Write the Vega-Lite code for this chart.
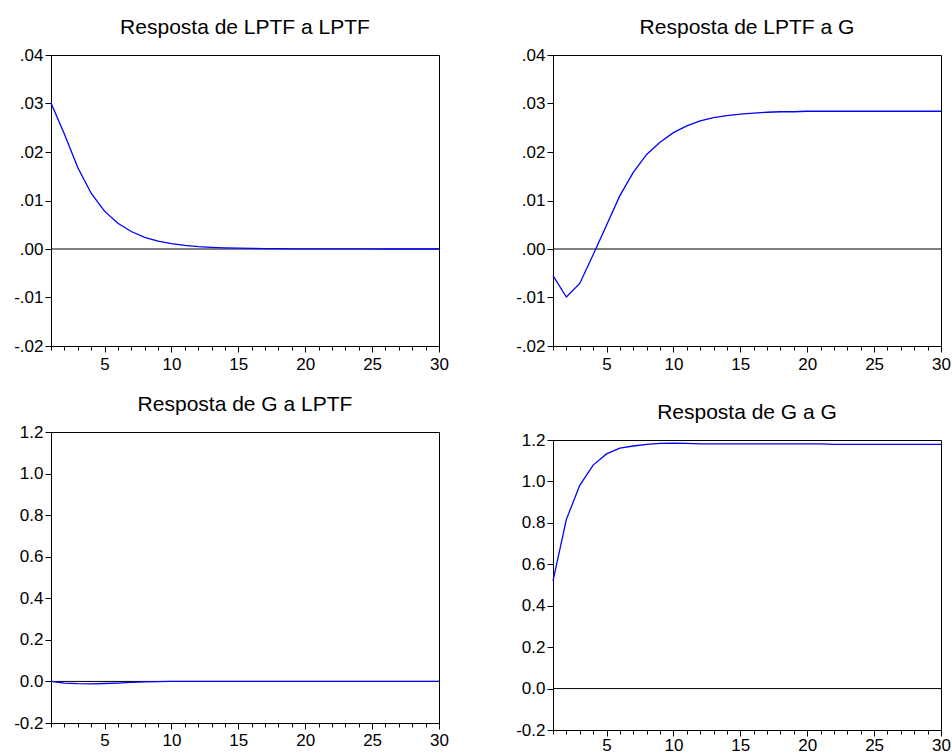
{
  "$schema": "https://vega.github.io/schema/vega-lite/v6.json",
  "padding": {"left": 13, "top": 16, "right": 0, "bottom": 0},
  "background": "white",
  "data": {"values": [
    {"p": "A", "t": 1, "v": 0.0301}, {"p": "A", "t": 2, "v": 0.0237}, {"p": "A", "t": 3, "v": 0.0168}, {"p": "A", "t": 4, "v": 0.0115}, {"p": "A", "t": 5, "v": 0.0078},
    {"p": "A", "t": 6, "v": 0.0053}, {"p": "A", "t": 7, "v": 0.0036}, {"p": "A", "t": 8, "v": 0.0024}, {"p": "A", "t": 9, "v": 0.0016}, {"p": "A", "t": 10, "v": 0.0011},
    {"p": "A", "t": 11, "v": 0.00075}, {"p": "A", "t": 12, "v": 0.0005}, {"p": "A", "t": 13, "v": 0.00035}, {"p": "A", "t": 14, "v": 0.00024}, {"p": "A", "t": 15, "v": 0.00017},
    {"p": "A", "t": 16, "v": 0.00012}, {"p": "A", "t": 17, "v": 0.00008}, {"p": "A", "t": 18, "v": 0.00006}, {"p": "A", "t": 19, "v": 0.00004}, {"p": "A", "t": 20, "v": 0.00003},
    {"p": "A", "t": 21, "v": 0.00002}, {"p": "A", "t": 22, "v": 0.00002}, {"p": "A", "t": 23, "v": 0.00001}, {"p": "A", "t": 24, "v": 0.00001}, {"p": "A", "t": 25, "v": 0.00001},
    {"p": "A", "t": 26, "v": 0.0}, {"p": "A", "t": 27, "v": 0.0}, {"p": "A", "t": 28, "v": 0.0}, {"p": "A", "t": 29, "v": 0.0}, {"p": "A", "t": 30, "v": 0.0},
    {"p": "B", "t": 1, "v": -0.0055}, {"p": "B", "t": 2, "v": -0.0099}, {"p": "B", "t": 3, "v": -0.0071}, {"p": "B", "t": 4, "v": -0.0012}, {"p": "B", "t": 5, "v": 0.0049},
    {"p": "B", "t": 6, "v": 0.011}, {"p": "B", "t": 7, "v": 0.0158}, {"p": "B", "t": 8, "v": 0.0195}, {"p": "B", "t": 9, "v": 0.022}, {"p": "B", "t": 10, "v": 0.024},
    {"p": "B", "t": 11, "v": 0.0254}, {"p": "B", "t": 12, "v": 0.0264}, {"p": "B", "t": 13, "v": 0.0271}, {"p": "B", "t": 14, "v": 0.0275}, {"p": "B", "t": 15, "v": 0.0278},
    {"p": "B", "t": 16, "v": 0.028}, {"p": "B", "t": 17, "v": 0.0282}, {"p": "B", "t": 18, "v": 0.0283}, {"p": "B", "t": 19, "v": 0.0283}, {"p": "B", "t": 20, "v": 0.0284},
    {"p": "B", "t": 21, "v": 0.0284}, {"p": "B", "t": 22, "v": 0.0284}, {"p": "B", "t": 23, "v": 0.0284}, {"p": "B", "t": 24, "v": 0.0284}, {"p": "B", "t": 25, "v": 0.0284},
    {"p": "B", "t": 26, "v": 0.0284}, {"p": "B", "t": 27, "v": 0.0284}, {"p": "B", "t": 28, "v": 0.0284}, {"p": "B", "t": 29, "v": 0.0284}, {"p": "B", "t": 30, "v": 0.0284},
    {"p": "C", "t": 1, "v": 0.0}, {"p": "C", "t": 2, "v": -0.008}, {"p": "C", "t": 3, "v": -0.011}, {"p": "C", "t": 4, "v": -0.012}, {"p": "C", "t": 5, "v": -0.01},
    {"p": "C", "t": 6, "v": -0.008}, {"p": "C", "t": 7, "v": -0.005}, {"p": "C", "t": 8, "v": -0.002}, {"p": "C", "t": 9, "v": -0.001}, {"p": "C", "t": 10, "v": 0.0},
    {"p": "C", "t": 11, "v": 0.0}, {"p": "C", "t": 12, "v": 0.0}, {"p": "C", "t": 13, "v": 0.0}, {"p": "C", "t": 14, "v": 0.0}, {"p": "C", "t": 15, "v": 0.0},
    {"p": "C", "t": 16, "v": 0.0}, {"p": "C", "t": 17, "v": 0.0}, {"p": "C", "t": 18, "v": 0.0}, {"p": "C", "t": 19, "v": 0.0}, {"p": "C", "t": 20, "v": 0.0},
    {"p": "C", "t": 21, "v": 0.0}, {"p": "C", "t": 22, "v": 0.0}, {"p": "C", "t": 23, "v": 0.0}, {"p": "C", "t": 24, "v": 0.0}, {"p": "C", "t": 25, "v": 0.0},
    {"p": "C", "t": 26, "v": 0.0}, {"p": "C", "t": 27, "v": 0.0}, {"p": "C", "t": 28, "v": 0.0}, {"p": "C", "t": 29, "v": 0.0}, {"p": "C", "t": 30, "v": 0.0},
    {"p": "D", "t": 1, "v": 0.52}, {"p": "D", "t": 2, "v": 0.817}, {"p": "D", "t": 3, "v": 0.981}, {"p": "D", "t": 4, "v": 1.079}, {"p": "D", "t": 5, "v": 1.133},
    {"p": "D", "t": 6, "v": 1.161}, {"p": "D", "t": 7, "v": 1.171}, {"p": "D", "t": 8, "v": 1.179}, {"p": "D", "t": 9, "v": 1.184}, {"p": "D", "t": 10, "v": 1.185},
    {"p": "D", "t": 11, "v": 1.184}, {"p": "D", "t": 12, "v": 1.181}, {"p": "D", "t": 13, "v": 1.181}, {"p": "D", "t": 14, "v": 1.181}, {"p": "D", "t": 15, "v": 1.181},
    {"p": "D", "t": 16, "v": 1.181}, {"p": "D", "t": 17, "v": 1.181}, {"p": "D", "t": 18, "v": 1.181}, {"p": "D", "t": 19, "v": 1.181}, {"p": "D", "t": 20, "v": 1.181},
    {"p": "D", "t": 21, "v": 1.181}, {"p": "D", "t": 22, "v": 1.179}, {"p": "D", "t": 23, "v": 1.179}, {"p": "D", "t": 24, "v": 1.179}, {"p": "D", "t": 25, "v": 1.179},
    {"p": "D", "t": 26, "v": 1.179}, {"p": "D", "t": 27, "v": 1.179}, {"p": "D", "t": 28, "v": 1.179}, {"p": "D", "t": 29, "v": 1.179}, {"p": "D", "t": 30, "v": 1.179}
  ]},
  "spacing": 66,
  "hconcat": [
    {
      "spacing": 20,
      "vconcat": [
        {
          "title": "Resposta de LPTF a LPTF",
          "width": 388, "height": 291,
          "transform": [{"filter": "datum.p == 'A'"}],
          "layer": [
            {"mark": {"type": "rule", "color": "#000", "strokeWidth": 1},
             "encoding": {
               "x": {"aggregate": "min", "field": "t", "type": "quantitative", "scale": {"domain": [1, 30], "nice": false, "zero": false},
                     "axis": {"orient": "bottom", "values": [1,2,3,4,5,6,7,8,9,10,11,12,13,14,15,16,17,18,19,20,21,22,23,24,25,26,27,28,29,30], "labels": false, "domain": false, "tickSize": 4, "title": null}},
               "x2": {"aggregate": "max", "field": "t"},
               "y": {"datum": 0, "type": "quantitative", "scale": {"domain": [-0.02, 0.04], "nice": false, "zero": false},
                     "axis": {"values": [-0.02, -0.01, 0, 0.01, 0.02, 0.03, 0.04], "labelExpr": "(datum.value < -0.0001 ? '-' : '') + replace(format(abs(datum.value), '.2f'), '0.', '.')", "tickSize": 6, "labelPadding": 2, "title": null}}
             }},
            {"mark": {"type": "line", "color": "#0000ff", "strokeWidth": 1.3},
             "encoding": {
               "x": {"field": "t", "type": "quantitative", "axis": {"orient": "bottom", "values": [5, 10, 15, 20, 25, 30], "format": "d", "tickSize": 6, "labelPadding": 4, "labelFlush": false, "title": null}},
               "y": {"field": "v", "type": "quantitative",
                     "axis": {"values": [-0.02, -0.01, 0, 0.01, 0.02, 0.03, 0.04], "labelExpr": "(datum.value < -0.0001 ? '-' : '') + replace(format(abs(datum.value), '.2f'), '0.', '.')", "tickSize": 6, "labelPadding": 2, "title": null}}
             }}
          ],
          "resolve": {"axis": {"x": "independent"}}
        },
        {
          "title": "Resposta de G a LPTF",
          "width": 388, "height": 291,
          "transform": [{"filter": "datum.p == 'C'"}],
          "layer": [
            {"mark": {"type": "rule", "color": "#000", "strokeWidth": 1},
             "encoding": {
               "x": {"aggregate": "min", "field": "t", "type": "quantitative", "scale": {"domain": [1, 30], "nice": false, "zero": false},
                     "axis": {"orient": "bottom", "values": [1,2,3,4,5,6,7,8,9,10,11,12,13,14,15,16,17,18,19,20,21,22,23,24,25,26,27,28,29,30], "labels": false, "domain": false, "tickSize": 4, "title": null}},
               "x2": {"aggregate": "max", "field": "t"},
               "y": {"datum": 0, "type": "quantitative", "scale": {"domain": [-0.2, 1.2], "nice": false, "zero": false},
                     "axis": {"values": [-0.2, 0, 0.2, 0.4, 0.6, 0.8, 1.0, 1.2], "labelExpr": "(datum.value < -0.0001 ? '-' : '') + format(abs(datum.value), '.1f')", "tickSize": 6, "labelPadding": 2, "title": null}}
             }},
            {"mark": {"type": "line", "color": "#0000ff", "strokeWidth": 1.3},
             "encoding": {
               "x": {"field": "t", "type": "quantitative", "axis": {"orient": "bottom", "values": [5, 10, 15, 20, 25, 30], "format": "d", "tickSize": 6, "labelPadding": 3, "labelFlush": false, "title": null}},
               "y": {"field": "v", "type": "quantitative",
                     "axis": {"values": [-0.2, 0, 0.2, 0.4, 0.6, 0.8, 1.0, 1.2], "labelExpr": "(datum.value < -0.0001 ? '-' : '') + format(abs(datum.value), '.1f')", "tickSize": 6, "labelPadding": 2, "title": null}}
             }}
          ],
          "resolve": {"axis": {"x": "independent"}}
        }
      ]
    },
    {
      "spacing": 28,
      "vconcat": [
        {
          "title": "Resposta de LPTF a G",
          "width": 388, "height": 291,
          "transform": [{"filter": "datum.p == 'B'"}],
          "layer": [
            {"mark": {"type": "rule", "color": "#000", "strokeWidth": 1},
             "encoding": {
               "x": {"aggregate": "min", "field": "t", "type": "quantitative", "scale": {"domain": [1, 30], "nice": false, "zero": false},
                     "axis": {"orient": "bottom", "values": [1,2,3,4,5,6,7,8,9,10,11,12,13,14,15,16,17,18,19,20,21,22,23,24,25,26,27,28,29,30], "labels": false, "domain": false, "tickSize": 4, "title": null}},
               "x2": {"aggregate": "max", "field": "t"},
               "y": {"datum": 0, "type": "quantitative", "scale": {"domain": [-0.02, 0.04], "nice": false, "zero": false},
                     "axis": {"values": [-0.02, -0.01, 0, 0.01, 0.02, 0.03, 0.04], "labelExpr": "(datum.value < -0.0001 ? '-' : '') + replace(format(abs(datum.value), '.2f'), '0.', '.')", "tickSize": 6, "labelPadding": 2, "title": null}}
             }},
            {"mark": {"type": "line", "color": "#0000ff", "strokeWidth": 1.3},
             "encoding": {
               "x": {"field": "t", "type": "quantitative", "axis": {"orient": "bottom", "values": [5, 10, 15, 20, 25, 30], "format": "d", "tickSize": 6, "labelPadding": 4, "labelFlush": false, "title": null}},
               "y": {"field": "v", "type": "quantitative",
                     "axis": {"values": [-0.02, -0.01, 0, 0.01, 0.02, 0.03, 0.04], "labelExpr": "(datum.value < -0.0001 ? '-' : '') + replace(format(abs(datum.value), '.2f'), '0.', '.')", "tickSize": 6, "labelPadding": 2, "title": null}}
             }}
          ],
          "resolve": {"axis": {"x": "independent"}}
        },
        {
          "title": "Resposta de G a G",
          "width": 388, "height": 290,
          "transform": [{"filter": "datum.p == 'D'"}],
          "layer": [
            {"mark": {"type": "rule", "color": "#000", "strokeWidth": 1},
             "encoding": {
               "x": {"aggregate": "min", "field": "t", "type": "quantitative", "scale": {"domain": [1, 30], "nice": false, "zero": false},
                     "axis": {"orient": "bottom", "values": [1,2,3,4,5,6,7,8,9,10,11,12,13,14,15,16,17,18,19,20,21,22,23,24,25,26,27,28,29,30], "labels": false, "domain": false, "tickSize": 4, "title": null}},
               "x2": {"aggregate": "max", "field": "t"},
               "y": {"datum": 0, "type": "quantitative", "scale": {"domain": [-0.2, 1.2], "nice": false, "zero": false},
                     "axis": {"values": [-0.2, 0, 0.2, 0.4, 0.6, 0.8, 1.0, 1.2], "labelExpr": "(datum.value < -0.0001 ? '-' : '') + format(abs(datum.value), '.1f')", "tickSize": 6, "labelPadding": 2, "title": null}}
             }},
            {"mark": {"type": "line", "color": "#0000ff", "strokeWidth": 1.3},
             "encoding": {
               "x": {"field": "t", "type": "quantitative", "axis": {"orient": "bottom", "values": [5, 10, 15, 20, 25, 30], "format": "d", "tickSize": 6, "labelPadding": 1, "labelFlush": false, "title": null}},
               "y": {"field": "v", "type": "quantitative",
                     "axis": {"values": [-0.2, 0, 0.2, 0.4, 0.6, 0.8, 1.0, 1.2], "labelExpr": "(datum.value < -0.0001 ? '-' : '') + format(abs(datum.value), '.1f')", "tickSize": 6, "labelPadding": 2, "title": null}}
             }}
          ],
          "resolve": {"axis": {"x": "independent"}}
        }
      ]
    }
  ],
  "config": {
    "font": "Liberation Sans",
    "view": {"stroke": "#000", "strokeWidth": 1},
    "axis": {"domainColor": "#000", "tickColor": "#000", "labelColor": "#000", "labelFontSize": 17, "labelFont": "Liberation Sans", "grid": false, "domainWidth": 1, "tickWidth": 1},
    "title": {"fontSize": 21, "fontWeight": "normal", "color": "#000", "font": "Liberation Sans", "offset": 8}
  }
}
